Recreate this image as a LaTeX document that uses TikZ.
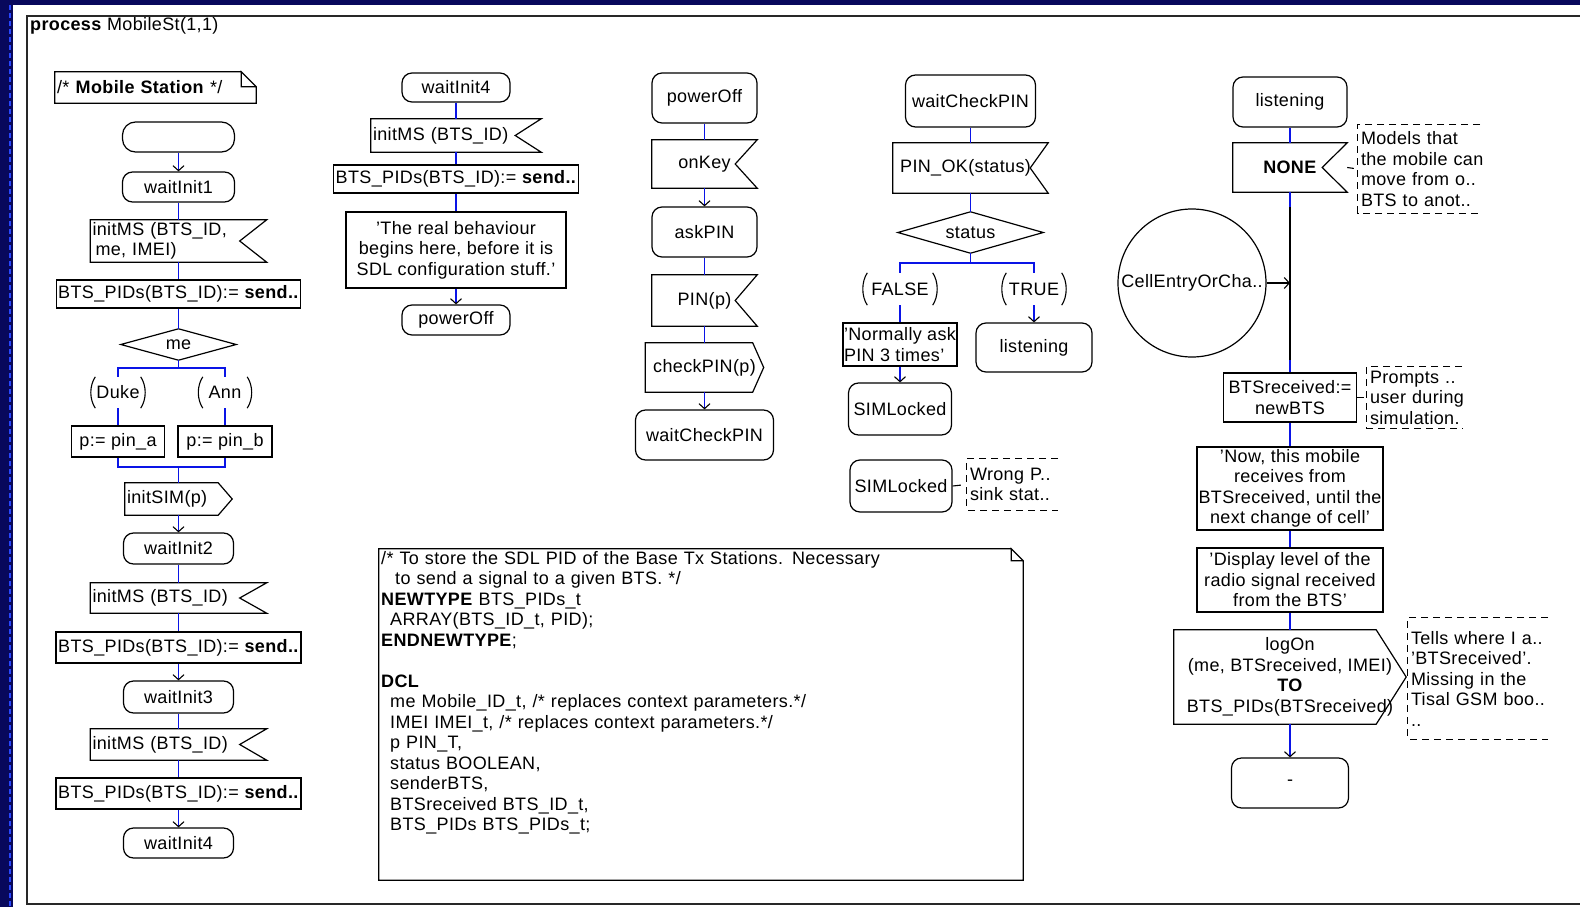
\documentclass[tikz,border=0pt]{standalone}
\usepackage{fontspec}
\setmainfont{Liberation Sans}[LetterSpace=2]
\usetikzlibrary{arrows.meta}

\definecolor{navy}{RGB}{8,8,92}
\definecolor{flowblue}{RGB}{10,20,230}
\definecolor{edgeblue}{RGB}{40,70,255}
\definecolor{framegray}{RGB}{40,40,40}

\tikzset{
  shp/.style={draw=black, line width=1.2pt},
  sym/.style={inner sep=0pt},
  stbox/.style={shp, rounded corners=10pt, inner sep=0pt},
  task/.style={shp, inner sep=0pt},
  sz/.style 2 args={minimum width=#1pt, minimum height=#2pt},
  lftxt/.style={text width=#1pt, align=left, inner xsep=2pt, inner ysep=0pt},
  cmnt/.style={text width=#1pt, align=left, inner xsep=3pt, inner ysep=0pt},
  cmt/.style={draw=black, line width=1.1pt, dash pattern=on 7pt off 5pt},
  cline/.style={draw=black, line width=1.1pt},
  flow/.style={draw=flowblue, line width=1.6pt},
  barb/.style={-{Straight Barb[length=5pt,width=11pt,color=black,line width=1.1pt]}},
  flowarr/.style={flow, barb},
  sig/.style={draw=black, line width=1.5pt, barb},
}

% SDL symbol outlines drawn around plain nodes
\newcommand{\sdlinput}[2]{\draw[shp] (#1.north west) -- (#1.north east) -- ([xshift=-#2pt]#1.east) -- (#1.south east) -- (#1.south west) -- cycle;}
\newcommand{\sdloutput}[2]{\draw[shp] (#1.north west) -- ([xshift=-#2pt]#1.north east) -- (#1.east) -- ([xshift=-#2pt]#1.south east) -- (#1.south west) -- cycle;}
\newcommand{\sdltext}[2]{\draw[shp] ([xshift=-#2pt]#1.north east) -- (#1.north west) -- (#1.south west) -- (#1.south east) -- ([yshift=-#2pt]#1.north east) -- ([xshift=-#2pt]#1.north east) -- ([xshift=-#2pt,yshift=-#2pt]#1.north east) -- ([yshift=-#2pt]#1.north east);}
\newcommand{\sdldecision}[1]{\draw[shp] (#1.west) -- (#1.north) -- (#1.east) -- (#1.south) -- cycle;}
\newcommand{\sdlanswer}[1]{%
  \draw[shp, line width=1.1pt] ([xshift=5pt]#1.north west) .. controls ([xshift=-1pt,yshift=-9pt]#1.north west) and ([xshift=-1pt,yshift=9pt]#1.south west) .. ([xshift=5pt]#1.south west);
  \draw[shp, line width=1.1pt] ([xshift=-5pt]#1.north east) .. controls ([xshift=1pt,yshift=-9pt]#1.north east) and ([xshift=1pt,yshift=9pt]#1.south east) .. ([xshift=-5pt]#1.south east);}
\newcommand{\sdlcomment}[1]{\draw[cmt] (#1.north east) -- (#1.north west) -- (#1.south west) -- (#1.south east);}
\newcommand{\shiftby}[2]{\makebox[0pt]{\hspace*{#1}\hspace*{#1}#2}}

\begin{document}
\begin{tikzpicture}[x=1pt, y=-1pt, font=\fontsize{18pt}{20.5pt}\selectfont]
\useasboundingbox (0,0) rectangle (1580,907);

% window background and page frame
\fill[navy] (0,0) rectangle (1580,907);
\fill[white] (13,5) rectangle (1580,907);
\draw[edgeblue, line width=2.5pt, dash pattern=on 5pt off 3pt] (10,5) -- (10,907);
\draw[framegray, line width=1.6pt] (1580,16) -- (27,16) -- (27,904) -- (1580,904);
\node[anchor=west, inner sep=0pt] (title) at (30,26) {\textbf{process} MobileSt(1,1)};

% ---------- column 1: configuration ----------
\node[sym, lftxt=197, minimum height=31pt] (mnote) at (155.5,87.5) {\mbox{/* \textbf{Mobile Station} */}};
\sdltext{mnote}{15}
\node[stbox, rounded corners=13pt, sz={112}{30}] (start) at (178.5,137) {};
\node[stbox, sz={112}{30}] (wi1) at (178.5,187) {waitInit1};
\node[sym, lftxt=172, minimum height=42pt] (in1) at (178.5,241) {\mbox{initMS (BTS\_ID,}\\\mbox{\hspace*{3pt}me, IMEI)}};
\sdlinput{in1}{27}
\node[task, sz={244}{28}] (t1) at (178.5,294) {BTS\_PIDs(BTS\_ID):= \textbf{send..}};
\node[sym, sz={115}{31}] (d1) at (178.5,344.5) {me};
\sdldecision{d1}
\coordinate (br1) at (178.5,368);
\node[sym, sz={55}{31}] (duke) at (118,392.5) {Duke};
\sdlanswer{duke}
\node[sym, sz={54}{31}] (ann) at (225,392.5) {Ann};
\sdlanswer{ann}
\node[task, sz={93}{31}] (ta) at (118,441.5) {p:= pin\_a};
\node[task, sz={94}{31}] (tb) at (225,441.5) {p:= pin\_b};
\coordinate (jn1) at (178.5,467);
\node[sym, lftxt=103, minimum height=32pt] (out1) at (178.5,499) {initSIM(p)};
\sdloutput{out1}{14}
\node[stbox, sz={110}{31}] (wi2) at (178.5,548.5) {waitInit2};
\node[sym, lftxt=172, minimum height=30pt] (in2) at (178.5,598) {\mbox{initMS (BTS\_ID)}};
\sdlinput{in2}{27}
\node[task, sz={245}{31}] (t2) at (178.5,647.5) {BTS\_PIDs(BTS\_ID):= \textbf{send..}};
\node[stbox, sz={110}{32}] (wi3) at (178.5,697) {waitInit3};
\node[sym, lftxt=172, minimum height=31pt] (in3) at (178.5,744.5) {\mbox{initMS (BTS\_ID)}};
\sdlinput{in3}{27}
\node[task, sz={245}{31}] (t3) at (178.5,793.5) {BTS\_PIDs(BTS\_ID):= \textbf{send..}};
\node[stbox, sz={110}{30}] (wi4) at (178.5,843) {waitInit4};

\draw[flowarr] (start.south) -- (wi1.north);
\draw[flow] (wi1.south) -- (in1.north);
\draw[flow] (in1.south) -- (t1.north);
\draw[flow] (t1.south) -- (d1.north);
\draw[flow] (d1.south) -- (br1);
\draw[flow] (duke.north) |- (br1) -| (ann.north);
\draw[flow] (duke.south) -- (ta.north);
\draw[flow] (ann.south) -- (tb.north);
\draw[flow] (ta.south) |- (jn1) -| (tb.south);
\draw[flow] (jn1) -- (out1.north);
\draw[flowarr] (out1.south) -- (wi2.north);
\draw[flow] (wi2.south) -- (in2.north);
\draw[flow] (in2.south) -- (t2.north);
\draw[flowarr] (t2.south) -- (wi3.north);
\draw[flow] (wi3.south) -- (in3.north);
\draw[flow] (in3.south) -- (t3.north);
\draw[flowarr] (t3.south) -- (wi4.north);

% ---------- column 2 ----------
\node[stbox, sz={108}{29}] (bwi4) at (456,87.5) {waitInit4};
\node[sym, lftxt=166, minimum height=33pt] (bin) at (456,135.5) {\mbox{initMS (BTS\_ID)}};
\sdlinput{bin}{26}
\node[task, sz={245}{28}] (bt) at (456,179) {BTS\_PIDs(BTS\_ID):= \textbf{send..}};
\node[task, sz={220}{76}, align=center] (bnote) at (456,250) {'The real behaviour\\begins here, before it is\\SDL configuration stuff.'};
\node[stbox, sz={108}{30}] (bpo) at (456,320) {powerOff};

\draw[flow] (bwi4.south) -- (bin.north);
\draw[flow] (bin.south) -- (bt.north);
\draw[flow] (bt.south) -- (bnote.north);
\draw[flowarr] (bnote.south) -- (bpo.north);

% ---------- column 3 ----------
\node[stbox, sz={105}{50}] (cpo) at (704.5,98) {powerOff};
\node[sym, sz={105}{48}] (onkey) at (704.5,164) {onKey};
\sdlinput{onkey}{22}
\node[stbox, sz={105}{50}] (askpin) at (704.5,232) {askPIN};
\node[sym, sz={105}{51}] (pinp) at (704.5,300.5) {PIN(p)};
\sdlinput{pinp}{22}
\node[sym, sz={118}{49}] (chk) at (704.5,367.5) {checkPIN(p)};
\sdloutput{chk}{11}
\node[stbox, sz={138}{50}] (wcp) at (704.5,435) {waitCheckPIN};

\draw[flow] (cpo.south) -- (onkey.north);
\draw[flowarr] (onkey.south) -- (askpin.north);
\draw[flow] (askpin.south) -- (pinp.north);
\draw[flow] (pinp.south) -- (chk.north);
\draw[flowarr] (chk.south) -- (wcp.north);

% ---------- column 4 ----------
\node[stbox, sz={130}{52}] (wcp2) at (970.5,101) {waitCheckPIN};
\node[sym, sz={155}{50}] (pinok) at (970.5,168) {\shiftby{-5pt}{PIN\_OK(status)}};
\sdlinput{pinok}{18}
\node[sym, sz={145}{41}] (dstat) at (970.5,232.5) {status};
\sdldecision{dstat}
\coordinate (br2) at (970.5,263);
\node[sym, sz={75}{32}] (fls) at (900,289) {FALSE};
\sdlanswer{fls}
\node[sym, sz={65}{32}] (tru) at (1034,289) {TRUE};
\sdlanswer{tru}
\node[task, sz={114}{43}, align=left] (norm) at (900,344.5) {'Normally ask\\PIN 3 times'};
\node[stbox, sz={116}{49}] (lst) at (1034,347.5) {listening};
\node[stbox, sz={103}{52}] (siml1) at (900,409) {SIMLocked};
\node[stbox, sz={102}{52}] (siml2) at (901,486) {SIMLocked};
\node[sym, cmnt=85, minimum height=51pt] (wrong) at (1012.5,484.5) {\mbox{Wrong P..}\\\mbox{sink stat..}};
\sdlcomment{wrong}

\draw[flow] (wcp2.south) -- (pinok.north);
\draw[flow] (pinok.south) -- (dstat.north);
\draw[flow] (dstat.south) -- (br2);
\draw[flow] (fls.north) |- (br2) -| (tru.north);
\draw[flow] (fls.south) -- (norm.north);
\draw[flowarr] (tru.south) -- (lst.north);
\draw[flowarr] (norm.south) -- (siml1.north);
\draw[cline, shorten >=6pt] (siml2.east) -- (wrong.west);

% ---------- column 5 ----------
\node[stbox, sz={114}{50}] (lst2) at (1290,102) {listening};
\node[sym, sz={114}{49}] (none) at (1290,167.5) {\textbf{NONE}};
\sdlinput{none}{25}
\node[sym, cmnt=116, minimum height=88pt] (cm1) at (1419,169) {\mbox{Models that}\\\mbox{the mobile can}\\\mbox{move from o..}\\\mbox{BTS to anot..}};
\sdlcomment{cm1}
\node[circle, shp, minimum size=148pt, inner sep=0pt] (conn) at (1192,283) {CellEntryOrCha..};
\node[task, sz={133}{49}, align=center] (tnew) at (1290,397.5) {BTSreceived:=\\newBTS};
\node[sym, cmnt=89, minimum height=61pt] (cm2) at (1414.5,397.5) {\mbox{Prompts ..}\\\mbox{user during}\\\mbox{simulation.}};
\sdlcomment{cm2}
\node[task, sz={186}{83}, align=center] (tnow) at (1290,488.5) {'Now, this mobile\\receives from\\BTSreceived, until the\\next change of cell'};
\node[task, sz={186}{64}, align=center] (tdisp) at (1290,580) {'Display level of the\\radio signal received\\from the BTS'};
\node[sym, sz={232}{94}, align=center] (logon) at (1290,677) {logOn\\(me, BTSreceived, IMEI)\\\textbf{TO}\\BTS\_PIDs(BTSreceived)};
\sdloutput{logon}{30}
\node[sym, cmnt=134, minimum height=121pt] (cm3) at (1478,678.5) {\mbox{Tells where I a..}\\\mbox{'BTSreceived'.}\\\mbox{Missing in the}\\\mbox{Tisal GSM boo..}\\\mbox{..}};
\sdlcomment{cm3}
\node[stbox, sz={117}{50}] (stop) at (1290,783) {-};

\coordinate (blkA) at (1290,207);
\coordinate (blkB) at (1290,360);
\draw[flow] (lst2.south) -- (none.north);
\draw[flow] (none.south) -- (tnew.north);
\draw[draw=black, line width=1.6pt] (blkA) -- (blkB);
\draw[sig] (conn.east) -- (conn.east -| none.south);
\draw[cline, shorten >=4pt] (none.east) -- (cm1.west);
\draw[cline, shorten >=3pt] (tnew.east) -- (cm2.west);
\draw[flow] (tnew.south) -- (tnow.north);
\draw[flow] (tnow.south) -- (tdisp.north);
\draw[flow] (tdisp.south) -- (logon.north);
\draw[flowarr] (logon.south) -- (stop.north);

% ---------- declarations ----------
\node[sym, sz={644}{331}] (decl) at (701,714.5) {};
\sdltext{decl}{12}
\node[anchor=north west, text width=640pt, align=left, inner sep=0pt] (decltext) at (381,551) {%
\mbox{/* To store the SDL PID of the Base Tx Stations. Necessary}\\
\mbox{\hspace*{14pt}to send a signal to a given BTS. */}\\
\mbox{\textbf{NEWTYPE} BTS\_PIDs\_t}\\
\mbox{\hspace*{9pt}ARRAY(BTS\_ID\_t, PID);}\\
\mbox{\textbf{ENDNEWTYPE};}\\
\mbox{}\\
\mbox{\textbf{DCL}}\\
\mbox{\hspace*{9pt}me Mobile\_ID\_t, /* replaces context parameters.*/}\\
\mbox{\hspace*{9pt}IMEI IMEI\_t, /* replaces context parameters.*/}\\
\mbox{\hspace*{9pt}p PIN\_T,}\\
\mbox{\hspace*{9pt}status BOOLEAN,}\\
\mbox{\hspace*{9pt}senderBTS,}\\
\mbox{\hspace*{9pt}BTSreceived BTS\_ID\_t,}\\
\mbox{\hspace*{9pt}BTS\_PIDs BTS\_PIDs\_t;}};
\end{tikzpicture}
\end{document}
